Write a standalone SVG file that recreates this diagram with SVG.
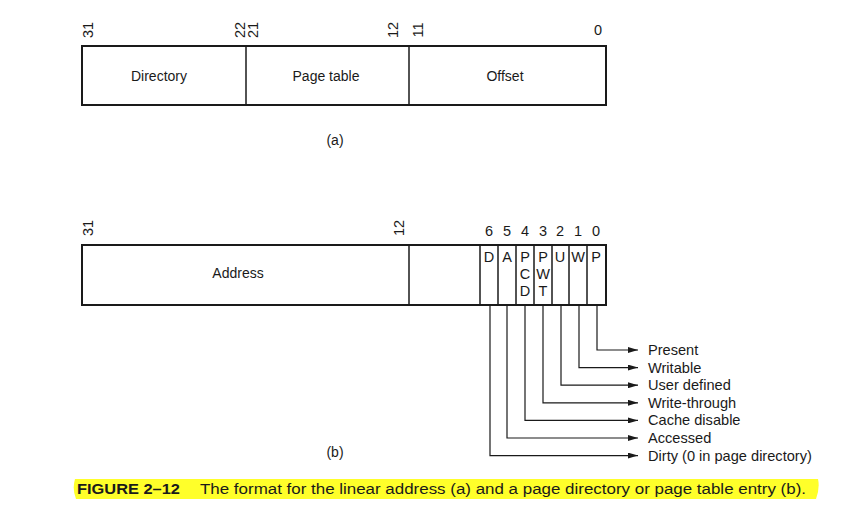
<svg xmlns="http://www.w3.org/2000/svg" width="859" height="507" viewBox="0 0 859 507">
<style>
text{font-family:"Liberation Sans",Arial,sans-serif;font-size:14px;fill:#1a1a1a}
.c{text-anchor:middle}
.n{font-size:14.5px}
.box{fill:#fff;stroke:#1a1a1a;stroke-width:2}
.div{stroke:#1a1a1a;stroke-width:1.5}
.thin{stroke:#1a1a1a;stroke-width:1.2;fill:none}
.lbl{font-size:14.6px}
</style>
<defs>
<marker id="ah" markerWidth="10" markerHeight="6" refX="10" refY="3" orient="auto" markerUnits="userSpaceOnUse">
<path d="M0,0 L10,3 L0,6 Z" fill="#1a1a1a"/>
</marker>
</defs>
<rect width="859" height="507" fill="#fff"/>

<g id="linear-address">
<rect class="box" x="82" y="46" width="524" height="59"/>
<line class="div" x1="246" y1="46" x2="246" y2="105"/>
<line class="div" x1="409" y1="46" x2="409" y2="105"/>
<text class="c" x="159" y="81">Directory</text>
<text class="c" x="326" y="81">Page table</text>
<text class="c" x="505" y="81">Offset</text>
<text class="c n" transform="translate(93,30) rotate(-90)">31</text>
<text class="c n" transform="translate(245,30) rotate(-90)">22</text>
<text class="c n" transform="translate(258,30) rotate(-90)">21</text>
<text class="c n" transform="translate(398,30) rotate(-90)">12</text>
<text class="c n" transform="translate(423,30) rotate(-90)">11</text>
<text class="c n" x="598" y="35">0</text>
<text class="c" x="335" y="145">(a)</text>
</g>

<g id="page-entry">
<rect class="box" x="82" y="245" width="524" height="60"/>
<line class="div" x1="409" y1="245" x2="409" y2="305"/>
<line class="div" x1="480" y1="245" x2="480" y2="305"/>
<line class="div" x1="498" y1="245" x2="498" y2="305"/>
<line class="div" x1="516" y1="245" x2="516" y2="305"/>
<line class="div" x1="534" y1="245" x2="534" y2="305"/>
<line class="div" x1="552" y1="245" x2="552" y2="305"/>
<line class="div" x1="569" y1="245" x2="569" y2="305"/>
<line class="div" x1="587" y1="245" x2="587" y2="305"/>
<text class="c" x="238" y="278">Address</text>
<text class="c n" transform="translate(93,228) rotate(-90)">31</text>
<text class="c n" transform="translate(404,228) rotate(-90)">12</text>
<text class="c n" x="489" y="236">6</text>
<text class="c n" x="507" y="236">5</text>
<text class="c n" x="525" y="236">4</text>
<text class="c n" x="543" y="236">3</text>
<text class="c n" x="560" y="236">2</text>
<text class="c n" x="578" y="236">1</text>
<text class="c n" x="596" y="236">0</text>
<text class="c n" x="489" y="262">D</text>
<text class="c n" x="507" y="262">A</text>
<text class="c n" x="525" y="262">P</text>
<text class="c n" x="525" y="279">C</text>
<text class="c n" x="525" y="296">D</text>
<text class="c n" x="543" y="262">P</text>
<text class="c n" x="543" y="279">W</text>
<text class="c n" x="543" y="296">T</text>
<text class="c n" x="560" y="262">U</text>
<text class="c n" x="578" y="262">W</text>
<text class="c n" x="596" y="262">P</text>
<text class="c" x="335" y="457">(b)</text>
</g>

<g id="connectors">
<path class="thin" d="M597,305 V350 H638" marker-end="url(#ah)"/>
<path class="thin" d="M579,305 V367.6 H638" marker-end="url(#ah)"/>
<path class="thin" d="M561,305 V385.2 H638" marker-end="url(#ah)"/>
<path class="thin" d="M543,305 V402.8 H638" marker-end="url(#ah)"/>
<path class="thin" d="M525,305 V420.4 H638" marker-end="url(#ah)"/>
<path class="thin" d="M507,305 V438 H638" marker-end="url(#ah)"/>
<path class="thin" d="M490,305 V455.6 H638" marker-end="url(#ah)"/>
</g>

<g id="legend">
<text class="lbl" x="648" y="355">Present</text>
<text class="lbl" x="648" y="372.6">Writable</text>
<text class="lbl" x="648" y="390.2">User defined</text>
<text class="lbl" x="648" y="407.8">Write-through</text>
<text class="lbl" x="648" y="425.4">Cache disable</text>
<text class="lbl" x="648" y="443">Accessed</text>
<text class="lbl" x="648" y="460.6">Dirty (0 in page directory)</text>
</g>

<g id="caption">
<path d="M75,479 H818 Q820,488 816,499 H76 Q72,489 75,479 Z" fill="#ffff2a"/>
<text x="77" y="494" style="font-weight:bold;font-size:15.5px" textLength="103" lengthAdjust="spacingAndGlyphs">FIGURE 2–12</text>
<text x="200" y="494" style="font-size:15.5px" textLength="606" lengthAdjust="spacingAndGlyphs">The format for the linear address (a) and a page directory or page table entry (b).</text>
</g>
</svg>
